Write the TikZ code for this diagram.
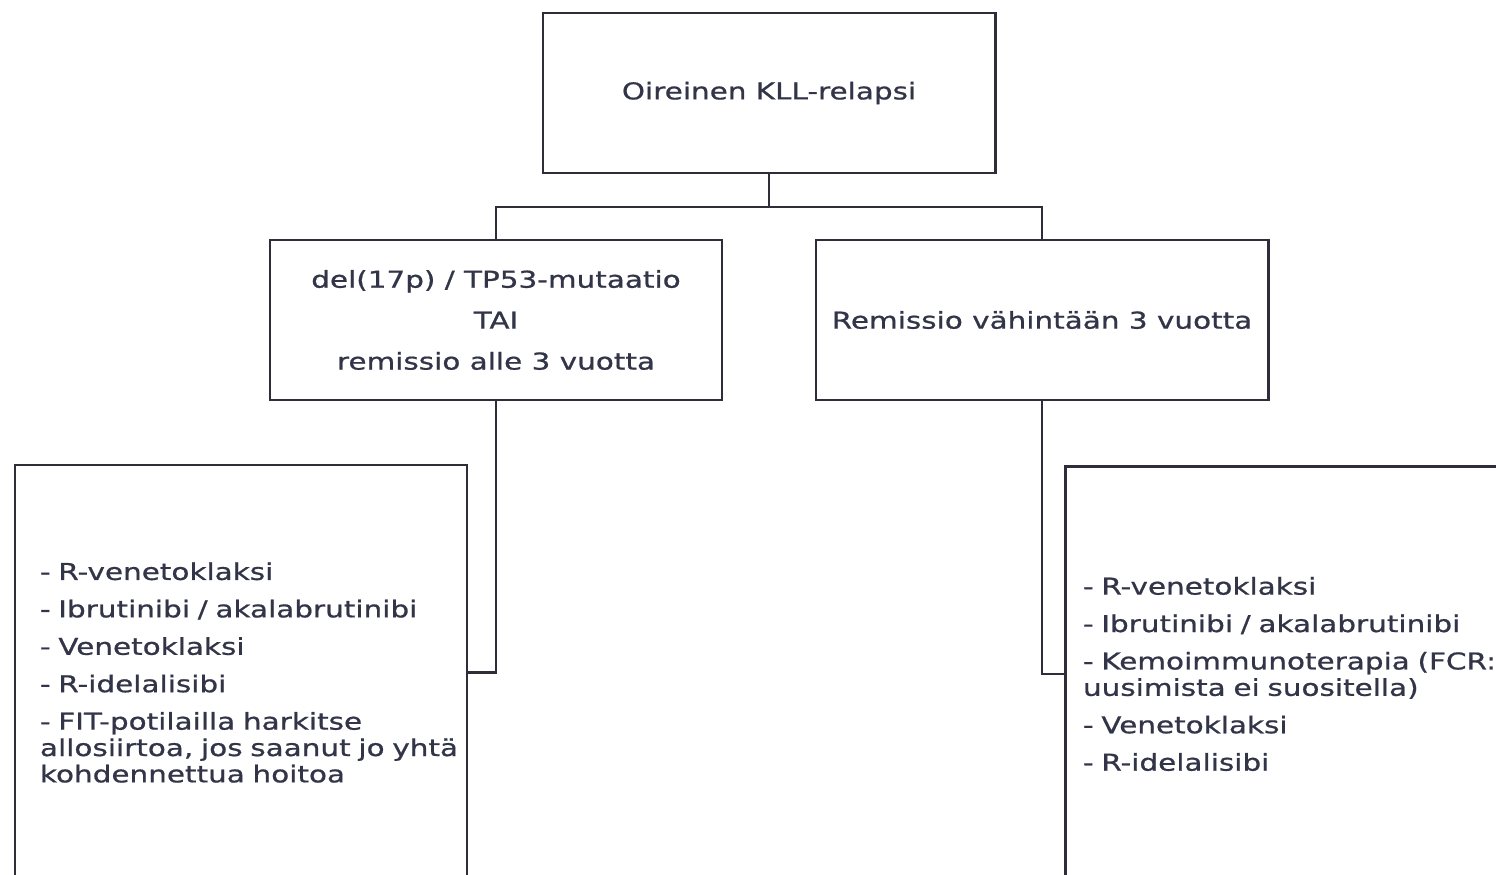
\documentclass[tikz,border=0pt]{standalone}
\usepackage{fontspec}
\setmainfont{DejaVu Sans}[FakeStretch=1.27, FakeBold=0.8]
\usepackage{xcolor}
\usepackage{tikz}
\definecolor{inkline}{RGB}{46,46,58}
\definecolor{inktext}{RGB}{50,53,72}

\begin{document}
\begin{tikzpicture}[
    box/.style={draw=inkline, line width=1.7pt, minimum width=9.04cm,
        minimum height=3.2cm, inner sep=0pt, align=center, text=inktext,
        font=\fontsize{13.2pt}{15pt}\selectfont},
    listbox/.style={box, minimum height=8.3cm, align=left},
    link/.style={draw=inkline, line width=1.3pt}
]

\path[use as bounding box] (0, 0) rectangle (29.92, -17.5);
\clip (0, 0) rectangle (29.92, -17.5);

% ── Top ──────────────────────────────────────────────────────────
\node[box] (relapse) at (15.38, -1.86) {Oireinen KLL-relapsi};

% ── Second row ───────────────────────────────────────────────────
\node[box] (highrisk) at (9.92, -6.40)
    {del(17p) / TP53-mutaatio\\[8.3pt]
    TAI\\[8.3pt]
    remissio alle 3 vuotta};
\node[box] (longrem) at (20.84, -6.40) {Remissio vähintään 3 vuotta};

% ── Treatment lists ──────────────────────────────────────────────
\node[listbox, inner xsep=0.5cm, text width=8.04cm] (treatA) at (4.82, -13.45)
    {- R-venetoklaksi\\[6.3pt]
    \mbox{- Ibrutinibi / akalabrutinibi}\\[6.3pt]
    - Venetoklaksi\\[6.3pt]
    - R-idelalisibi\\[6.3pt]
    - FIT-potilailla harkitse\\
    \mbox{allosiirtoa, jos saanut jo yhtä}\\
    kohdennettua hoitoa};
\node[listbox, inner xsep=0.36cm, text width=8.32cm] (treatB) at (25.82, -13.48)
    {- R-venetoklaksi\\[6.3pt]
    \mbox{- Ibrutinibi / akalabrutinibi}\\[6.3pt]
    \mbox{- Kemoimmunoterapia (FCR:n}\\
    uusimista ei suositella)\\[6.3pt]
    - Venetoklaksi\\[6.3pt]
    - R-idelalisibi};

% ── Connectors ───────────────────────────────────────────────────
\coordinate (split) at (15.38, -4.14);
\draw[link] (relapse.south) -- (split);
\draw[link] (split) -| (highrisk.north);
\draw[link] (split) -| (longrem.north);
\draw[link] (highrisk.south) |- (treatA.east);
\draw[link] (longrem.south) |- (treatB.west);

\end{tikzpicture}
\end{document}
